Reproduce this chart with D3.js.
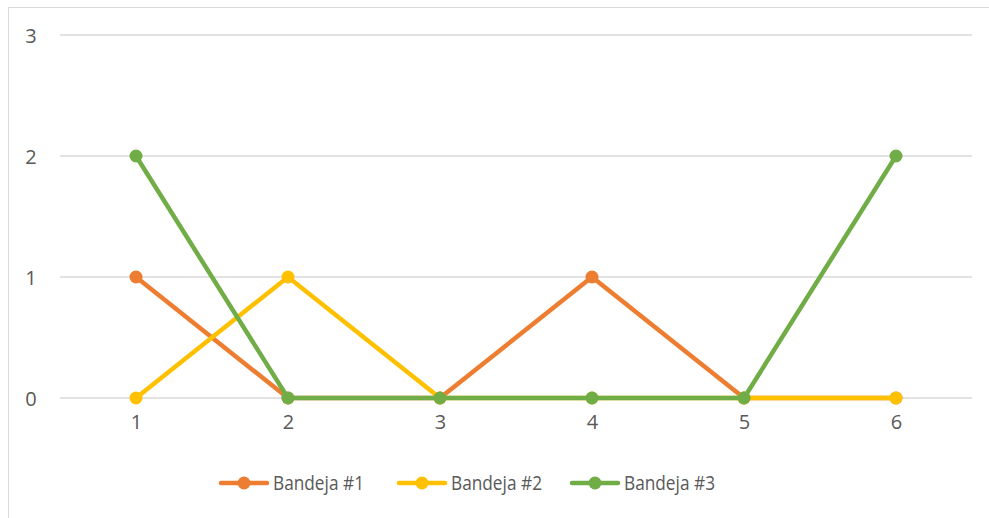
<!DOCTYPE html>
<html><head><meta charset="utf-8">
<script src="https://cdn.jsdelivr.net/npm/d3@7"></script>
<style>body{margin:0;background:#fff}svg{display:block}text{font-family:"Open Sans",sans-serif;fill:#595959}</style>
</head><body>
<svg id="c" width="989" height="518"></svg>
<script>
const categories = ["1","2","3","4","5","6"];
const seriesNames = ["Bandeja #1","Bandeja #2","Bandeja #3"];
const bandeja1 = [1,0,0,1,0,0];
const bandeja2 = [0,1,0,0,0,0];
const bandeja3 = [2,0,0,0,0,2];
const yTicks = [0,1,2,3];
const colors = ["#ED7D31","#FFC000","#70AD47"];
const series = [bandeja1,bandeja2,bandeja3];

const svg = d3.select("#c");
svg.append("rect").attr("x",8.5).attr("y",7.5).attr("width",1000).attr("height",1000)
  .attr("fill","#fff").attr("stroke","#d9d9d9").attr("stroke-width",1);

const x = d3.scalePoint().domain(categories).range([60,972]).padding(0.5);
const y = d3.scaleLinear().domain([0,3]).range([398,35]);

const g = svg.append("g");
g.selectAll("line.grid").data(yTicks).join("line")
  .attr("x1",60).attr("x2",972).attr("y1",d=>y(d)).attr("y2",d=>y(d))
  .attr("stroke","#d9d9d9").attr("stroke-width",1.3);

const yAxis = d3.axisLeft(y).tickValues(yTicks).tickFormat(d3.format("d")).tickSize(0).tickPadding(0);
const ya = svg.append("g").attr("transform","translate(37,0)").call(yAxis);
ya.select(".domain").remove();
ya.selectAll("text").attr("font-size",20).attr("fill","#595959").attr("text-anchor","middle").attr("dx","-6").attr("dy","0.35em");

const xAxis = d3.axisBottom(x).tickSize(0).tickPadding(0);
const xa = svg.append("g").attr("transform","translate(0,419)").call(xAxis);
xa.select(".domain").remove();
xa.selectAll("text").attr("font-size",20).attr("fill","#595959").attr("dy","0.5em");

const line = d3.line().x((d,i)=>x(categories[i])).y(d=>y(d));
series.forEach((s,k)=>{
  g.append("path").datum(s).attr("d",line).attr("fill","none")
    .attr("stroke",colors[k]).attr("stroke-width",4.5).attr("stroke-linejoin","round").attr("stroke-linecap","round");
  g.selectAll(null).data(s).join("circle")
    .attr("cx",(d,i)=>x(categories[i])).attr("cy",d=>y(d)).attr("r",6.5).attr("fill",colors[k]);
});

const legX = [221,399,572];
const ly = 483;
seriesNames.forEach((n,k)=>{
  const lg = svg.append("g");
  lg.append("line").attr("x1",legX[k]).attr("x2",legX[k]+46).attr("y1",ly).attr("y2",ly)
    .attr("stroke",colors[k]).attr("stroke-width",4.5).attr("stroke-linecap","round");
  lg.append("circle").attr("cx",legX[k]+23).attr("cy",ly).attr("r",6.5).attr("fill",colors[k]);
  lg.append("text").attr("x",legX[k]+52).attr("y",ly).attr("dy","0.35em").attr("font-size",20)
    .attr("textLength",91).attr("lengthAdjust","spacingAndGlyphs").text(n);
});
</script>
</body></html>
